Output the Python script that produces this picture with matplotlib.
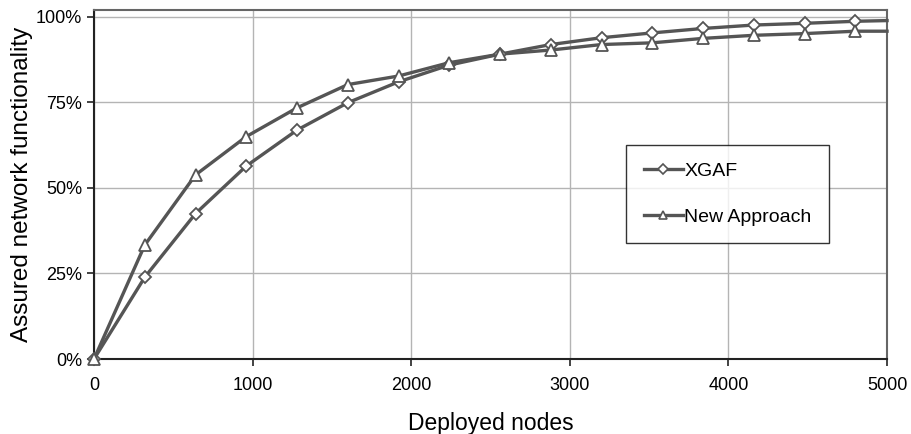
import matplotlib
matplotlib.use('Agg')
import matplotlib.pyplot as plt
from matplotlib.ticker import PercentFormatter

plt.rcParams['font.family'] = ['Liberation Sans', 'DejaVu Sans']

nodes = [0, 320, 640, 960, 1280, 1600, 1920, 2240, 2560, 2880, 3200,
         3520, 3840, 4160, 4480, 4800]
xgaf = [0.0, 23.9, 42.5, 56.4, 66.9, 74.9, 81.0, 85.9, 89.1, 91.9, 93.9,
        95.3, 96.6, 97.6, 98.1, 98.7]
new_approach = [0.0, 33.3, 53.8, 65.0, 73.4, 80.2, 82.7, 86.6, 89.1, 90.3,
                91.9, 92.4, 93.7, 94.6, 95.1, 95.8]
# lines run on to the edge of the plot without a marker
end_x = 5000
xgaf_end = 98.9
new_end = 95.8

line_c = '#555555'

fig = plt.figure(figsize=(9.11, 4.34), dpi=100)
ax = fig.add_axes([0.1032, 0.1728, 0.8705, 0.8042])

for vals, end, mk, ms, lab in [(xgaf, xgaf_end, 'D', 6.5, 'XGAF'),
                               (new_approach, new_end, '^', 8.5, 'New Approach')]:
    ax.plot(nodes + [end_x], vals + [end], color=line_c, lw=2.4, zorder=3,
            clip_on=False)
    ax.plot(nodes, vals, ls='none', marker=mk, ms=ms, mfc='white',
            mec=line_c, mew=1.3, zorder=4, clip_on=False)
    # legend proxy
    ax.plot([], [], color=line_c, lw=2.4, marker=mk, ms=ms * 0.75,
            mfc='white', mec=line_c, mew=1.2, label=lab)

ax.set_xlim(0, 5000)
ax.set_ylim(0, 102)
ax.set_xticks([0, 1000, 2000, 3000, 4000, 5000])
ax.set_yticks([0, 25, 50, 75, 100])
ax.yaxis.set_major_formatter(PercentFormatter(decimals=0))
ax.grid(True, color='#b4b4b4', lw=1)
ax.set_axisbelow(True)

for s in ['left', 'bottom']:
    ax.spines[s].set_color('#222222')
    ax.spines[s].set_linewidth(1.5)
for s in ['top', 'right']:
    ax.spines[s].set_color('#666666')
    ax.spines[s].set_linewidth(1.5)

ax.tick_params(axis='both', direction='out', length=5, width=1.2,
               labelsize=13, color='#222222')
ax.tick_params(axis='x', pad=8)
ax.set_xlabel('Deployed nodes', fontsize=16.5, labelpad=13)
ax.set_ylabel('Assured network functionality', fontsize=17.5, labelpad=2)

leg = ax.legend(loc='upper left', bbox_to_anchor=(0.671, 0.613), fontsize=14,
                frameon=True, fancybox=False, edgecolor='black',
                borderpad=0.9, labelspacing=1.45, handlelength=2.0,
                handletextpad=0.1, borderaxespad=0)
leg.get_frame().set_linewidth(1.0)

fig.savefig('out.png', dpi=100)
